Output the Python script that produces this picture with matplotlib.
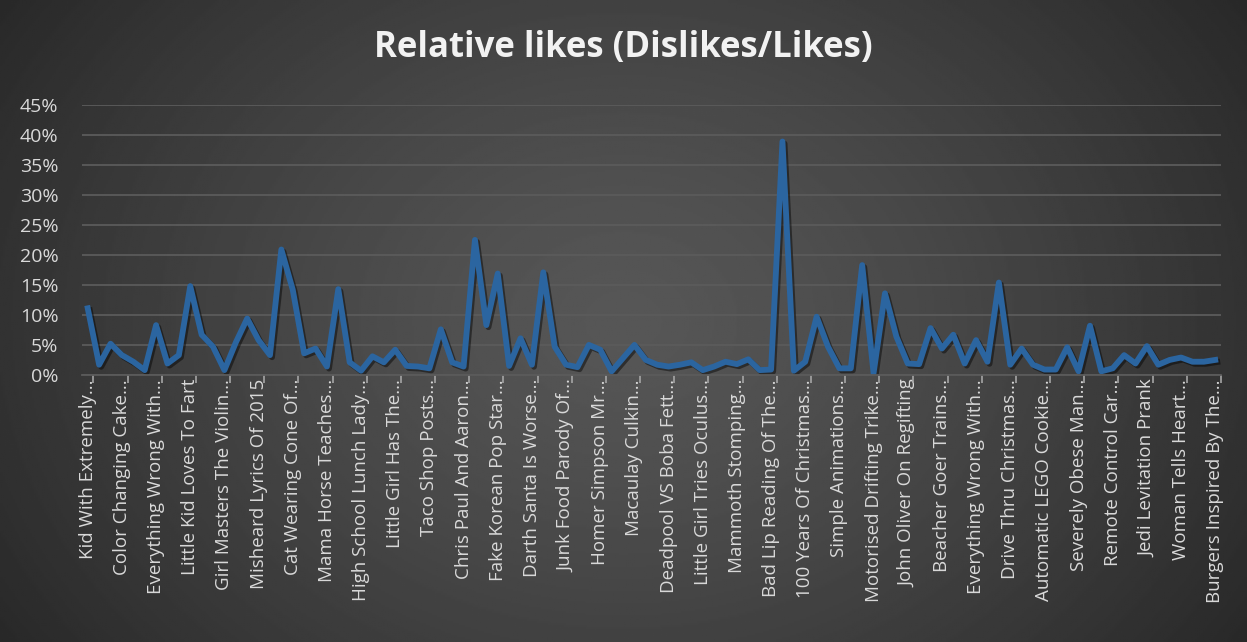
import matplotlib

matplotlib.use("Agg")
import matplotlib.patheffects as pe
import matplotlib.pyplot as plt
import numpy as np
from matplotlib.ticker import PercentFormatter

# every third video carries a visible label on the category axis
labels = [
    "Kid With Extremely...", "Color Changing Cake...", "Everything Wrong With...",
    "Little Kid Loves To Fart", "Girl Masters The Violin...", "Misheard Lyrics Of 2015",
    "Cat Wearing Cone Of...", "Mama Horse Teaches...", "High School Lunch Lady...",
    "Little Girl Has The...", "Taco Shop Posts...", "Chris Paul And Aaron...",
    "Fake Korean Pop Star...", "Darth Santa Is Worse...", "Junk Food Parody Of...",
    "Homer Simpson Mr...", "Macaulay Culkin...", "Deadpool VS Boba Fett...",
    "Little Girl Tries Oculus...", "Mammoth Stomping...", "Bad Lip Reading Of The...",
    "100 Years Of Christmas...", "Simple Animations...", "Motorised Drifting Trike...",
    "John Oliver On Regifting", "Beacher Goer Trains...", "Everything Wrong With...",
    "Drive Thru Christmas...", "Automatic LEGO Cookie...", "Severely Obese Man...",
    "Remote Control Car...", "Jedi Levitation Prank", "Woman Tells Heart...",
    "Burgers Inspired By The...",
]
label_step = 3

# dislikes / likes, in percent, one value per video (100 videos)
ratios = [
    11.1, 1.7, 5.2, 3.3, 2.2, 0.8, 8.3, 1.9, 3.3, 14.8,
    6.7, 4.7, 0.8, 5.4, 9.4, 5.8, 3.3, 20.9, 14.2, 3.6,
    4.4, 1.4, 14.3, 2.1, 0.7, 3.1, 2.1, 4.2, 1.5, 1.4,
    1.1, 7.6, 2.1, 1.4, 22.5, 8.3, 16.9, 1.5, 6.1, 1.7,
    17.1, 4.7, 1.7, 1.3, 5.0, 4.2, 0.6, 2.8, 5.0, 2.5,
    1.7, 1.4, 1.7, 2.1, 0.8, 1.4, 2.2, 1.8, 2.6, 0.8,
    0.9, 38.9, 0.7, 2.2, 9.7, 4.7, 1.1, 1.1, 18.3, 0.3,
    13.6, 6.4, 1.9, 1.8, 7.8, 4.4, 6.7, 1.9, 5.8, 2.2,
    15.4, 1.7, 4.4, 1.7, 0.9, 0.9, 4.6, 0.6, 8.2, 0.6,
    1.1, 3.3, 1.9, 4.8, 1.7, 2.5, 2.9, 2.2, 2.2, 2.5,
]

text_color = "#d9d9d9"
grid_color = "#5b5b5b"
line_color = "#2b65a0"

fig = plt.figure(figsize=(12.47, 6.42), dpi=100)

# dark radial background like the spreadsheet chart style
bg = fig.add_axes([0, 0, 1, 1], zorder=0)
yy, xx = np.mgrid[0:1:320j, 0:1:640j]
r = np.sqrt(((xx - 0.5) / 0.62) ** 2 + ((yy - 0.5) / 0.95) ** 2)
shade = 0.34 - 0.19 * np.clip(r, 0, 1) ** 1.3
bg.imshow(shade, cmap="gray", vmin=0, vmax=1, aspect="auto", extent=[0, 1, 0, 1])
bg.axis("off")

ax = fig.add_axes([0.0658, 0.416, 0.9133, 0.4206], zorder=1)
ax.patch.set_alpha(0)

x = np.arange(len(ratios))
ax.plot(
    x, np.array(ratios) / 100, color=line_color, lw=4.2, solid_joinstyle="round",
    path_effects=[pe.SimpleLineShadow(offset=(1.5, -1.5), shadow_color="black", alpha=0.45),
                  pe.Normal()],
)

ax.set_xlim(-0.5, len(ratios) - 0.5)
ax.set_ylim(0, 0.45)
ax.set_yticks(np.arange(0, 0.451, 0.05))
ax.yaxis.set_major_formatter(PercentFormatter(1.0, decimals=0))
ax.yaxis.grid(True, color=grid_color, lw=1.3)
ax.set_axisbelow(True)

ax.set_xticks(x[::label_step])
ax.set_xticklabels(labels, rotation=90)
ax.set_xticks(x[::label_step] + 0.5, minor=True)

for side in ["top", "right", "left"]:
    ax.spines[side].set_visible(False)
ax.spines["bottom"].set_color(grid_color)
ax.spines["bottom"].set_linewidth(1.3)

ax.tick_params(axis="y", length=0, pad=17, labelsize=14, labelcolor=text_color)
ax.tick_params(axis="x", which="major", length=0, pad=3, labelsize=13.5, labelcolor=text_color)
ax.tick_params(axis="x", which="minor", length=6, width=1.2, color="#a6a6a6")
for lab in ax.get_xticklabels() + ax.get_yticklabels():
    lab.set_fontfamily("Open Sans")

fig.text(0.5, 1 - 48 / 642, "Relative likes (Dislikes/Likes)", ha="center", va="center",
         fontsize=25, fontweight="bold", color="#f2f2f2", family="Open Sans")

fig.savefig("out.png", dpi=100)
